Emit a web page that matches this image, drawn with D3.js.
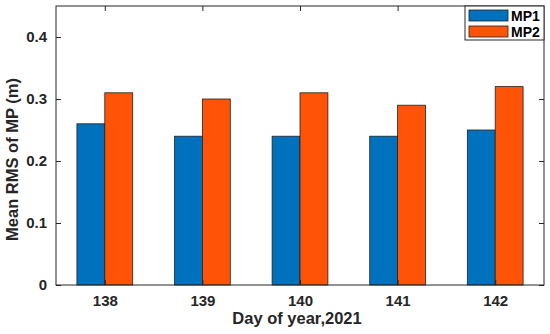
<!DOCTYPE html>
<html>
<head>
<meta charset="utf-8">
<script src="https://cdn.jsdelivr.net/npm/d3@7"></script>
<style>
body { margin: 0; background: #fff; }
text { font-family: "Liberation Sans", Arial, sans-serif; font-weight: bold; }
</style>
</head>
<body>
<div id="chart"></div>
<script>
var days = [138, 139, 140, 141, 142];
var mp1 = [0.26, 0.24, 0.24, 0.24, 0.25];
var mp2 = [0.31, 0.30, 0.31, 0.29, 0.32];
var seriesNames = ["MP1", "MP2"];
var seriesColors = ["#0072bd", "#ff5308"];
var yTicks = [0, 0.1, 0.2, 0.3, 0.4];

var dimensions = {top: 6, right: 6, bottom: 49, left: 56},
	width = 550 - dimensions.left - dimensions.right,
	height = 334 - dimensions.top - dimensions.bottom;

var svg = d3.select("#chart").append("svg")
	.attr("width", 550)
	.attr("height", 334)
	.append("g")
	.attr("transform", "translate(" + dimensions.left + "," + dimensions.top + ")");

var x = d3.scaleLinear().domain([137.5, 142.5]).range([0, width]);
var y = d3.scaleLinear().domain([0, 0.45]).range([height, 0]);
var barW = 0.2857;

var series = [mp1, mp2];
series.forEach(function(vals, s){
	svg.selectAll(".bar" + s)
		.data(vals)
		.enter().append("rect")
		.attr("x", function(d, i){ return x(days[i] - barW + s * barW); })
		.attr("width", x(137.5 + barW) - x(137.5))
		.attr("y", function(d){ return y(d); })
		.attr("height", function(d){ return height - y(d); })
		.style("fill", seriesColors[s])
		.style("stroke", "#222")
		.style("stroke-width", 0.8);
});

// axes, MATLAB style ticks inside
var tickLen = 5;
var yAxis = svg.append("g").call(d3.axisLeft(y).tickValues(yTicks).tickSizeInner(-tickLen).tickSizeOuter(0).tickPadding(9).tickFormat(function(d){ return d === 0 ? "0" : d3.format(".1f")(d); }));
var xAxis = svg.append("g").attr("transform", "translate(0," + height + ")")
	.call(d3.axisBottom(x).tickValues(days).tickSizeInner(-tickLen).tickSizeOuter(0).tickPadding(10).tickFormat(d3.format("d")));
svg.append("g").call(d3.axisTop(x).tickValues(days).tickSizeInner(-tickLen).tickSizeOuter(0).tickFormat(""));
svg.append("g").attr("transform", "translate(" + width + ",0)")
	.call(d3.axisRight(y).tickValues(yTicks).tickSizeInner(-tickLen).tickSizeOuter(0).tickFormat(""));

svg.selectAll(".domain").remove();
svg.selectAll(".tick line").style("stroke", "#262626");
yAxis.selectAll("text").style("font-size", "15px").style("fill", "#262626");
xAxis.selectAll("text").style("font-size", "15px").style("fill", "#262626");

svg.append("rect")
	.attr("width", width).attr("height", height)
	.style("fill", "none").style("stroke", "#262626").style("stroke-width", 1);

svg.append("text")
	.attr("transform", "translate(" + (-38) + "," + (height / 2 + 14) + ") rotate(-90)")
	.attr("text-anchor", "middle")
	.style("font-size", "16.5px")
	.style("fill", "#262626")
	.text("Mean RMS of MP (m)");

svg.append("text")
	.attr("x", width / 2 - 3)
	.attr("y", height + 39)
	.attr("text-anchor", "middle")
	.style("font-size", "16.5px")
	.style("fill", "#262626")
	.text("Day of year,2021");

// legend
var legend = svg.append("g").attr("transform", "translate(" + (width - 79) + ",0)");
legend.append("rect")
	.attr("width", 79).attr("height", 34)
	.style("fill", "#fff").style("stroke", "#262626").style("stroke-width", 1);
seriesNames.forEach(function(name, i){
	legend.append("rect")
		.attr("x", 4).attr("y", 4 + i * 16)
		.attr("width", 39).attr("height", 11)
		.style("fill", seriesColors[i]).style("stroke", "#222").style("stroke-width", 0.8);
	legend.append("text")
		.attr("x", 46).attr("y", 14.5 + i * 16)
		.style("font-size", "14px")
		.style("fill", "#000")
		.text(name);
});
</script>
</body>
</html>
